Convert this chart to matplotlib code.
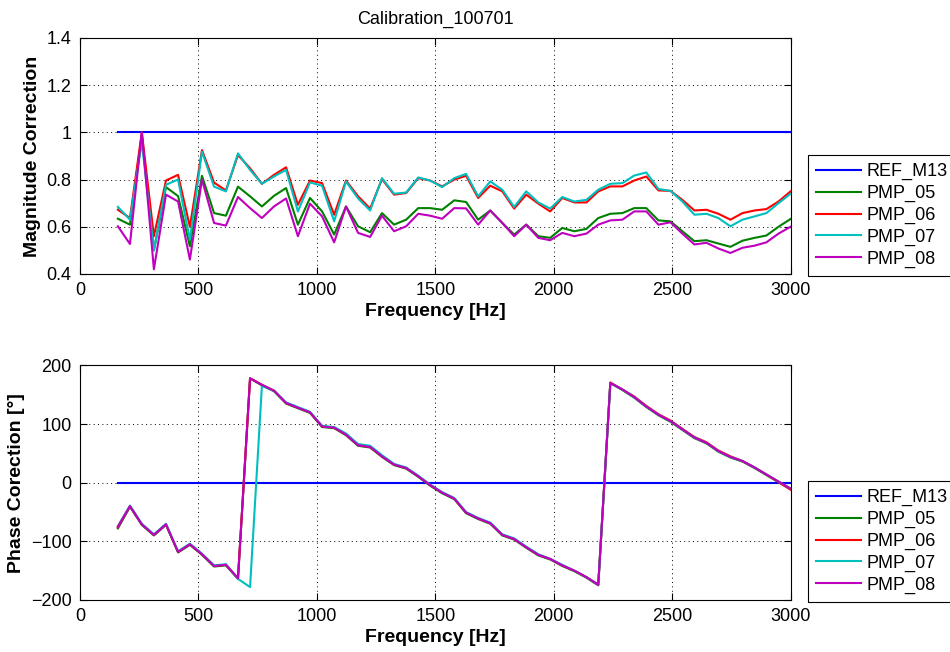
import matplotlib
matplotlib.use("Agg")
import matplotlib.pyplot as plt

plt.rcParams["font.family"] = ["Liberation Sans", "DejaVu Sans"]

TITLE = "Calibration_100701"
LABELS = ["REF_M13", "PMP_05", "PMP_06", "PMP_07", "PMP_08"]
COLORS = ["#0000ff", "#008000", "#ff0000", "#00bfbf", "#bf00bf"]

freq = [160, 211, 261, 312, 363, 414, 464, 515, 566, 616,
        667, 718, 768, 819, 870, 920, 971, 1022, 1073, 1123,
        1174, 1225, 1275, 1326, 1377, 1428, 1478, 1529, 1580, 1630,
        1681, 1732, 1783, 1833, 1884, 1935, 1985, 2036, 2087, 2138,
        2188, 2239, 2290, 2340, 2391, 2442, 2493, 2543, 2594, 2645,
        2695, 2746, 2797, 2848, 2898, 2949, 3000]

# magnitude correction
mag_ref = [1.0] * len(freq)
mag_05 = [0.634, 0.609, 0.99, 0.50, 0.768, 0.73, 0.517, 0.816, 0.658, 0.647,
          0.77, 0.729, 0.686, 0.731, 0.764, 0.609, 0.722, 0.665, 0.567, 0.686,
          0.602, 0.577, 0.658, 0.609, 0.63, 0.679, 0.679, 0.672, 0.712, 0.705,
          0.63, 0.669, 0.616, 0.567, 0.609, 0.56, 0.553, 0.595, 0.581, 0.591,
          0.637, 0.655, 0.658, 0.679, 0.679, 0.627, 0.623, 0.581, 0.539, 0.543,
          0.529, 0.515, 0.541, 0.553, 0.563, 0.60, 0.633]
mag_06 = [0.672, 0.637, 1.0, 0.56, 0.796, 0.82, 0.60, 0.925, 0.787, 0.754,
          0.904, 0.848, 0.782, 0.82, 0.852, 0.693, 0.796, 0.785, 0.651, 0.796,
          0.729, 0.677, 0.802, 0.736, 0.743, 0.806, 0.796, 0.771, 0.80, 0.816,
          0.722, 0.774, 0.75, 0.677, 0.736, 0.698, 0.665, 0.722, 0.703, 0.703,
          0.75, 0.771, 0.771, 0.796, 0.813, 0.754, 0.752, 0.714, 0.669, 0.672,
          0.655, 0.63, 0.658, 0.669, 0.675, 0.707, 0.75]
mag_07 = [0.684, 0.630, 0.96, 0.50, 0.778, 0.80, 0.545, 0.918, 0.77, 0.75,
          0.911, 0.841, 0.782, 0.813, 0.841, 0.665, 0.788, 0.774, 0.623, 0.792,
          0.72, 0.669, 0.806, 0.74, 0.745, 0.809, 0.796, 0.768, 0.806, 0.824,
          0.729, 0.792, 0.757, 0.684, 0.75, 0.703, 0.677, 0.726, 0.707, 0.714,
          0.757, 0.782, 0.785, 0.817, 0.83, 0.76, 0.752, 0.707, 0.651, 0.655,
          0.637, 0.602, 0.63, 0.644, 0.658, 0.70, 0.74]
mag_08 = [0.602, 0.527, 1.0, 0.42, 0.736, 0.707, 0.461, 0.80, 0.616, 0.605,
          0.726, 0.679, 0.637, 0.686, 0.72, 0.56, 0.698, 0.644, 0.534, 0.686,
          0.574, 0.557, 0.647, 0.581, 0.602, 0.655, 0.647, 0.634, 0.679, 0.678,
          0.609, 0.669, 0.616, 0.56, 0.609, 0.553, 0.543, 0.574, 0.56, 0.571,
          0.609, 0.627, 0.63, 0.665, 0.665, 0.609, 0.619, 0.571, 0.525, 0.532,
          0.508, 0.489, 0.511, 0.52, 0.534, 0.571, 0.60]

# phase correction [deg]
ph_ref = [0.0] * len(freq)
ph_05 = [-78, -41, -72, -90, -72, -119, -106, -123, -143, -141,
         -164, 178, 166, 156, 135, 127, 119, 95, 93, 81,
         63, 60, 44, 30, 24, 10, -5, -18, -28, -52,
         -62, -70, -90, -97, -111, -124, -131, -142, -151, -162,
         -175, 170, 158, 145, 129, 115, 104, 90, 76, 67,
         53, 43, 36, 25, 13, 1, -11]
ph_06 = [-76, -40, -71, -89, -71, -118, -105, -122, -142, -140,
         -163, 178, 167, 157, 136, 128, 120, 96, 94, 82,
         64, 61, 45, 31, 25, 11, -4, -17, -27, -51,
         -61, -69, -89, -96, -110, -123, -130, -141, -150, -161,
         -174, 171, 159, 147, 131, 117, 106, 92, 78, 69,
         55, 45, 37, 26, 14, 1, -12]
ph_07 = [-74, -39, -70, -88, -70, -117, -104, -121, -141, -139,
         -164, -178, 165, 157, 137, 129, 121, 97, 95, 84,
         66, 63, 47, 32, 26, 12, -3, -16, -26, -50,
         -60, -68, -88, -95, -109, -122, -130, -140, -150, -161,
         -174, 170, 159, 146, 130, 116, 105, 91, 77, 68,
         54, 44, 37, 26, 14, 2, -10]
ph_08 = [-75, -40, -71, -89, -71, -118, -105, -122, -142, -140,
         -163, 178, 167, 157, 136, 128, 120, 96, 94, 82,
         64, 61, 45, 31, 25, 11, -4, -17, -27, -51,
         -61, -69, -89, -96, -110, -123, -130, -141, -150, -161,
         -174, 170, 159, 146, 130, 116, 105, 91, 77, 68,
         54, 44, 37, 26, 14, 2, -10]

X_TICKS = [0, 500, 1000, 1500, 2000, 2500, 3000]
MAG_TICKS = [0.4, 0.6, 0.8, 1.0, 1.2, 1.4]
MAG_TICK_LABELS = ["0.4", "0.6", "0.8", "1", "1.2", "1.4"]
PH_TICKS = [-200, -100, 0, 100, 200]


def style_axes(ax):
    ax.set_xlim(0, 3000)
    ax.set_xticks(X_TICKS)
    ax.tick_params(direction="in", top=True, right=True, length=5,
                   labelsize=13, pad=6)
    ax.grid(True, linestyle=(0, (1, 3.5)), color="k", linewidth=0.7)
    for s in ax.spines.values():
        s.set_linewidth(0.8)


def main():
    fig = plt.figure(figsize=(9.5, 6.52), dpi=100)
    ax1 = fig.add_axes([0.0842, 0.5798, 0.748, 0.362])
    ax2 = fig.add_axes([0.0842, 0.0798, 0.748, 0.3597])

    for ys, lab, col in zip([mag_ref, mag_05, mag_06, mag_07, mag_08], LABELS, COLORS):
        ax1.plot(freq, ys, color=col, linewidth=1.5, label=lab)
    style_axes(ax1)
    ax1.set_ylim(0.4, 1.4)
    ax1.set_yticks(MAG_TICKS)
    ax1.set_yticklabels(MAG_TICK_LABELS)
    ax1.set_title(TITLE, fontsize=13, pad=10)
    ax1.set_xlabel("Frequency [Hz]", fontsize=14, fontweight="bold", labelpad=3)
    ax1.set_ylabel("Magnitude Correction", fontsize=14, fontweight="bold")

    for ys, lab, col in zip([ph_ref, ph_05, ph_06, ph_07, ph_08], LABELS, COLORS):
        ax2.plot(freq, ys, color=col, linewidth=1.5, label=lab)
    style_axes(ax2)
    ax2.set_ylim(-200, 200)
    ax2.set_yticks(PH_TICKS)
    ax2.set_xlabel("Frequency [Hz]", fontsize=14, fontweight="bold", labelpad=3)
    ax2.set_ylabel("Phase Corection [°]", fontsize=14, fontweight="bold")

    for ax, bottom in [(ax1, 1 - 276 / 652), (ax2, 1 - 602 / 652)]:
        leg = ax.legend(loc="lower left", bbox_to_anchor=(808 / 950, bottom),
                        bbox_transform=fig.transFigure, fontsize=13,
                        frameon=True, fancybox=False, framealpha=1,
                        edgecolor="k", borderpad=0.45, labelspacing=0.26,
                        handlelength=2.5, handletextpad=0.3, borderaxespad=0)
        leg.get_frame().set_linewidth(0.8)

    fig.savefig("out.png", dpi=100)
    plt.close(fig)


if __name__ == "__main__":
    main()
